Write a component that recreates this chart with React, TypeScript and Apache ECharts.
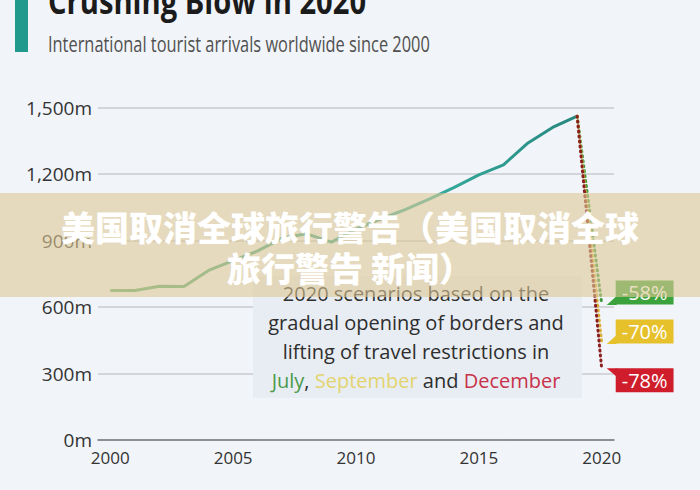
import React, { useEffect, useRef } from "react";
import * as echarts from "echarts";

const years = ["2000","2001","2002","2003","2004","2005","2006","2007","2008","2009","2010","2011","2012","2013","2014","2015","2016","2017","2018","2019","2020"];
const arrivals: (number | null)[] = [674, 674, 694, 692, 765, 809, 853, 911, 930, 893, 952, 997, 1039, 1088, 1140, 1196, 1241, 1340, 1410, 1461, null];
const yTicks = [0, 300, 600, 900, 1200, 1500];
const scenarioNames = ["July", "September", "December"];
const scenarioLabels = ["-58%", "-70%", "-78%"];
const scenario2020 = [614, 438, 321];

const titleText = "Crushing Blow in 2020";
const subtitleText = "International tourist arrivals worldwide since 2000";
const bannerLine1 = "美国取消全球旅行警告（美国取消全球";
const bannerLine2 = "旅行警告 新闻）";

const scenarioColors = ["#3ca33c", "#e6c12c", "#cf1d2b"];
const dotColors = ["#3c9a3c", "#d9b13a", "#8a1f1f"];
const labelUp = [true, true, false];

export default function App() {
  const ref = useRef<HTMLDivElement>(null);
  useEffect(() => {
    if (!ref.current) return;
    const chart = echarts.init(ref.current, null, { renderer: "svg" });
    const font = '"Open Sans", "Noto Sans", sans-serif';
    const last = years.length - 1;
    const peakIdx = last - 1;

    const scenarioSeries = scenarioNames.map((name, k) => ({
      name,
      type: "line",
      z: 3 + k,
      symbol: "none",
      lineStyle: { color: dotColors[k], width: 3, type: [1, 4], cap: "round" },
      data: years.map((_, i) => {
        if (i === peakIdx) return arrivals[peakIdx];
        if (i === last) return scenario2020[k];
        return "-";
      }),
    }));

    const baseGraphics: any[] = [
      { type: "rect", id: "bar", z: 10, shape: { x: 15, y: 0, width: 13, height: 52 }, style: { fill: "#1f9a8c" } },
      {
        type: "text", id: "title", z: 10, x: 48, y: 0, scaleX: 0.81,
        style: { text: titleText, fontSize: 36, fontWeight: "bold", fontFamily: font, fill: "#1b1b1b", verticalAlign: "middle", align: "left" },
      },
      {
        type: "text", id: "subtitle", z: 10, x: 48, y: 44, scaleX: 0.78,
        style: { text: subtitleText, fontSize: 21, fontFamily: font, fill: "#505050", verticalAlign: "middle", align: "left" },
      },
      { type: "rect", id: "box", z: 10, shape: { x: 253, y: 276, width: 329, height: 122 }, style: { fill: "#e8edf3" } },
      {
        type: "text", id: "boxtext", z: 11, x: 416, y: 337,
        style: {
          text: "2020 scenarios based on the\ngradual opening of borders and\nlifting of travel restrictions in\n{g|July}, {y|September} and {r|December}",
          fontSize: 20, fontFamily: font, lineHeight: 29, fill: "#2e2e2e", align: "center", verticalAlign: "middle",
          rich: {
            g: { fill: "#4a9a4a", fontSize: 20, fontFamily: font, lineHeight: 29 },
            y: { fill: "#e3d46e", fontSize: 20, fontFamily: font, lineHeight: 29 },
            r: { fill: "#c8324a", fontSize: 20, fontFamily: font, lineHeight: 29 },
          },
        },
      },
      { type: "rect", id: "band", z: 100, shape: { x: 0, y: 193, width: 700, height: 104 }, style: { fill: "rgba(222,200,150,0.6)" } },
      {
        type: "text", id: "band1", z: 101, x: 350, y: 226,
        style: { text: bannerLine1, fontSize: 34, fontWeight: 900, fontFamily: '"Noto Sans CJK SC", sans-serif', fill: "#ffffff", align: "center", verticalAlign: "middle" },
      },
      {
        type: "text", id: "band2", z: 101, x: 350, y: 267,
        style: { text: bannerLine2, fontSize: 34, fontWeight: 900, fontFamily: '"Noto Sans CJK SC", sans-serif', fill: "#ffffff", align: "center", verticalAlign: "middle" },
      },
    ];

    chart.setOption({
      animation: false,
      backgroundColor: "#f1f4f8",
      grid: { left: 98, right: 86, top: 107.5, bottom: 50, containLabel: false },
      xAxis: {
        type: "category",
        data: years,
        boundaryGap: true,
        axisTick: { show: false },
        axisLine: { lineStyle: { color: "#7a7a7a", width: 1.5 } },
        axisLabel: { interval: 4, fontSize: 17, color: "#333", fontFamily: font, margin: 9 },
      },
      yAxis: {
        type: "value",
        min: yTicks[0],
        max: yTicks[yTicks.length - 1],
        interval: yTicks[1] - yTicks[0],
        axisLine: { show: false },
        axisTick: { show: false },
        splitLine: { lineStyle: { color: "#c8cbd0", width: 1.5 } },
        axisLabel: {
          fontSize: 19, color: "#333", fontFamily: font, margin: 6,
          formatter: (v: number) => v.toLocaleString("en-US") + "m",
        },
      },
      series: [
        {
          name: "Arrivals",
          type: "line",
          z: 2,
          symbol: "none",
          data: arrivals.map((v) => (v == null ? "-" : v)),
          lineStyle: {
            width: 3,
            color: new echarts.graphic.LinearGradient(0, 0, 1, 0, [
              { offset: 0, color: "#5fae6a" },
              { offset: 0.4, color: "#3ea58a" },
              { offset: 0.68, color: "#36ad9f" },
              { offset: 1, color: "#27877f" },
            ]),
          },
        },
        ...scenarioSeries,
      ],
      graphic: baseGraphics,
    });

    const extras: any[] = [];
    scenario2020.forEach((v, k) => {
      const [px, py] = chart.convertToPixel({ xAxisIndex: 0, yAxisIndex: 0 }, [last, v]) as number[];
      const up = labelUp[k];
      const pts = up
        ? [[px + 5, py + 1], [px + 15, py + 1], [px + 15, py - 8]]
        : [[px + 5, py - 0.5], [px + 15, py - 0.5], [px + 15, py + 8]];
      extras.push({ type: "polygon", id: "ptr" + k, z: 20, shape: { points: pts }, style: { fill: scenarioColors[k] } });
      extras.push({
        type: "text", id: "lbl" + k, z: 21, x: px + 14, y: up ? py - 11.5 : py + 11.5,
        style: {
          text: scenarioLabels[k], fontSize: 20, fontFamily: font, fill: "#ffffff",
          backgroundColor: scenarioColors[k], padding: [1, 6, 1, 6], lineHeight: 22,
          align: "left", verticalAlign: "middle",
        },
      });
    });
    chart.setOption({ graphic: [...baseGraphics, ...extras] });

    return () => chart.dispose();
  }, []);

  return (
    <div
      ref={ref}
      style={{ position: "fixed", left: 0, top: 0, width: 700, height: 490, background: "#f1f4f8" }}
    />
  );
}
